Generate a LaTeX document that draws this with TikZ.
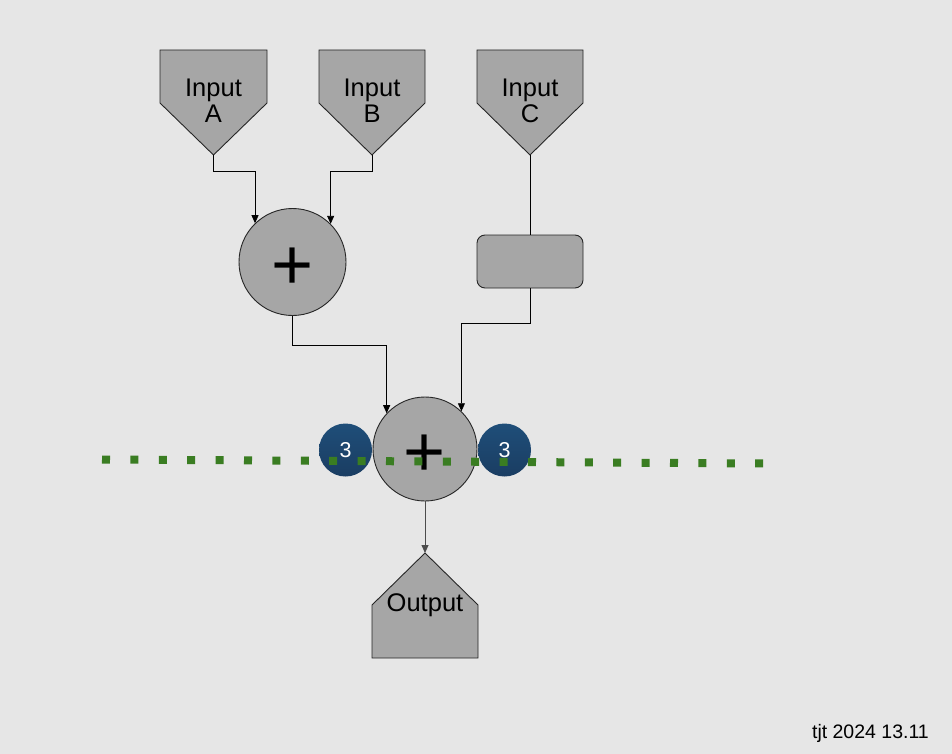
\documentclass[tikz,border=0pt]{standalone}
\usepackage{fontspec}
\setmainfont{Liberation Sans}
\usetikzlibrary{arrows.meta}
\definecolor{bg}{HTML}{E6E6E6}
\definecolor{shape}{HTML}{A6A6A6}
\definecolor{navy}{HTML}{1F4E79}
\definecolor{navyd}{HTML}{1A3D62}
\definecolor{dotgreen}{HTML}{3A7D22}
\tikzset{
  pent/.style={draw=black!85, fill=shape, line width=0.9pt},
  lbl/.style={font=\fontsize{25.5}{26}\selectfont, align=center, inner sep=0pt},
  sumnode/.style={circle, draw=black!85, fill=shape, line width=0.9pt, minimum size=#1, inner sep=0pt},
  plussign/.style={inner sep=0pt, font=\fontsize{72}{72}\selectfont},
  badge/.style={circle, top color=navy, bottom color=navyd, draw=none, minimum size=53pt, inner sep=0pt, text=white, font=\fontsize{21.5}{22}\selectfont},
  conn/.style={line width=0.8pt, draw=black},
  arr/.style={conn, -{Triangle[length=8pt,width=7pt]}},
}
\begin{document}
\begin{tikzpicture}[x=1pt,y=-1pt]
\fill[bg] (0,0) rectangle (952,754);
\useasboundingbox (0,0) rectangle (952,754);
% inputs
\draw[pent] (160,50) -- (267,50) -- (267,103) -- (213.5,155) -- (160,103) -- cycle;
\draw[pent] (319,50) -- (425,50) -- (425,103) -- (372,155) -- (319,103) -- cycle;
\draw[pent] (477,50) -- (583,50) -- (583,103) -- (530,155) -- (477,103) -- cycle;
\coordinate (tipA) at (213.5,155);
\coordinate (tipB) at (372,155);
\coordinate (tipC) at (530,155);
\node[lbl] (inA) at (213.5,101) {Input\\A};
\node[lbl] (inB) at (372,101) {Input\\B};
\node[lbl] (inC) at (530,101) {Input\\C};
% first sum
\node[sumnode=107pt] (s1) at (292.5,262) {};
\node[plussign] (p1) at ([yshift=-7pt]s1.center) {+};
% box
\node[draw=black!85, fill=shape, line width=0.9pt, rounded corners=8pt, minimum width=106pt, minimum height=53pt, inner sep=0pt] (boxC) at (530,261.5) {};
% second sum
\node[sumnode=104pt] (s2) at (425,449) {};
\node[plussign] (p2) at ([yshift=-7pt]s2.center) {+};
% badges
\node[badge] (b1) at (345.5,450) {3};
\node[badge] (b2) at (504.5,450) {3};
% output
\draw[pent] (372,658) -- (372,605) -- (425,553) -- (478,605) -- (478,658) -- cycle;
\coordinate (tipOut) at (425,553);
\node[lbl] (out) at (425,605) {Output};
% connectors
\draw[arr] (tipA) -- ++(0,16) -| (s1.134.5);
\draw[arr] (tipB) -- ++(0,16) -| (s1.45.5);
\draw[conn] (tipC) -- (boxC.north);
\draw[arr] (s1.south) -- ++(0,29) -| (s2.137);
\draw[arr] (boxC.south) -- ++(0,35) -| (s2.46.2);
\draw[arr, draw=black!70] (s2.south) -- (tipOut);
% dotted line
\coordinate (dl) at (102,459.5);
\coordinate (dr) at (766,463.5);
\draw[dotgreen, line width=8pt, dash pattern=on 8pt off 20.4pt] (dl) -- (dr);
% footer
\node[font=\fontsize{19.5}{20}\selectfont, anchor=base east, inner sep=0pt] (foot) at (929,738) {tjt 2024 13.11};
\end{tikzpicture}
\end{document}
